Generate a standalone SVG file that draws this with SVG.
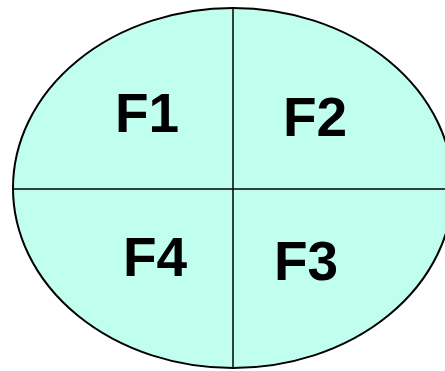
<svg xmlns="http://www.w3.org/2000/svg" width="445" height="371" viewBox="0 0 445 371">
<style>
.shape{fill:#C0FFEE;stroke:#000;stroke-width:2}
.line{stroke:#000;stroke-width:1.5;fill:none}
.lbl{font-family:"Liberation Sans",Arial,sans-serif;font-weight:bold;font-size:55px;fill:#000}
</style>
<rect width="445" height="371" fill="#fff"/>
<g id="ellipse"><ellipse class="shape" cx="233" cy="188" rx="220" ry="180"/></g>
<g id="connectors">
<line class="line" x1="233" y1="8" x2="233" y2="368"/>
<line class="line" x1="13" y1="189" x2="453" y2="189"/>
</g>
<g id="F1"><text class="lbl" x="115" y="132">F1</text></g>
<g id="F2"><text class="lbl" x="283" y="136">F2</text></g>
<g id="F4"><text class="lbl" x="123" y="276">F4</text></g>
<g id="F3"><text class="lbl" x="274" y="280">F3</text></g>
</svg>
